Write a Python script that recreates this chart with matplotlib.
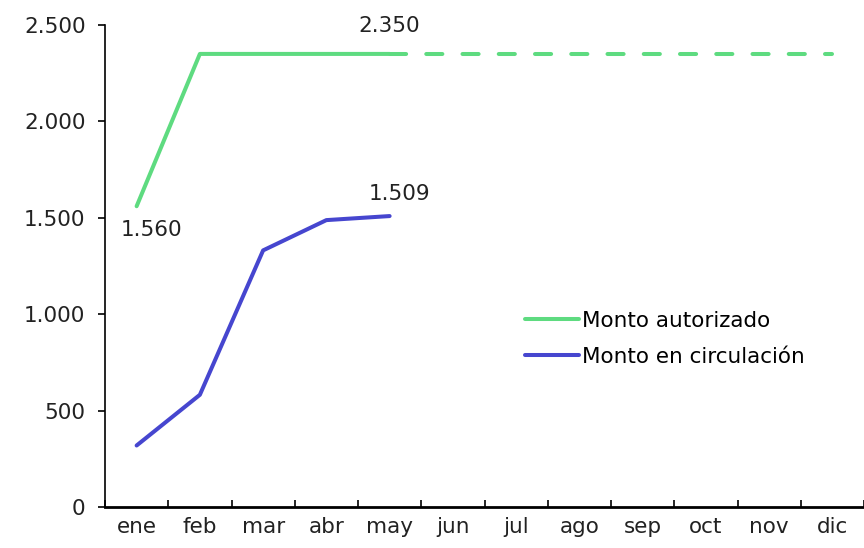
import matplotlib
matplotlib.use("Agg")
import matplotlib.pyplot as plt

months = ["ene", "feb", "mar", "abr", "may", "jun", "jul", "ago", "sep", "oct", "nov", "dic"]
autorizado = [1560, 2350, 2350, 2350, 2350]
autorizado_proy = [None, None, None, None, 2350, 2350, 2350, 2350, 2350, 2350, 2350, 2350]
circulacion = [319, 582, 1331, 1488, 1509]
yticks = [0, 500, 1000, 1500, 2000, 2500]
ytick_labels = ["0", "500", "1.000", "1.500", "2.000", "2.500"]

green = "#5EDB80"
blue = "#4646CF"
FS = 15.5

plt.rcParams['font.family'] = ['DejaVu Sans']
fig = plt.figure(figsize=(8.64, 5.48), dpi=100)
ax = fig.add_axes([105/864, 41/548, 1 - 105/864, (507-25)/548])

x_all = [i + 0.5 for i in range(12)]
xa = x_all[:len(autorizado)]
xc = x_all[:len(circulacion)]
xp = [x for x, v in zip(x_all, autorizado_proy) if v is not None]
vp = [v for v in autorizado_proy if v is not None]

ax.plot(xa, autorizado, color=green, lw=2.9, solid_capstyle='round', solid_joinstyle='round', label="Monto autorizado")
ax.plot(xp, vp, color=green, lw=2.9, dashes=(4, 5), dash_capstyle='round')
ax.plot(xc, circulacion, color=blue, lw=2.9, solid_capstyle='round', solid_joinstyle='round', label="Monto en circulación")

ax.set_xlim(0, 12)
ax.set_ylim(0, 2500)
ax.set_yticks(yticks)
ax.set_yticklabels(ytick_labels, fontsize=FS, color="#222222")
ax.set_xticks(range(13))
ax.set_xticklabels([])
ax.set_xticks(x_all, minor=True)
ax.set_xticklabels(months, minor=True, fontsize=FS, color="#222222")
ax.tick_params(axis='x', which='major', direction='in', length=5, width=1.2)
ax.tick_params(axis='x', which='minor', length=0, pad=7)
ax.tick_params(axis='y', direction='out', length=5, width=1.2, pad=9)

for s in ["top", "right"]:
    ax.spines[s].set_visible(False)
ax.spines["left"].set_linewidth(1.2)
ax.spines["bottom"].set_linewidth(2)

def fmt(v):
    return f"{v:,}".replace(",", ".")

ax.annotate(fmt(autorizado[0]), (xa[0], autorizado[0]), xytext=(11, -17), textcoords='offset points',
            ha='center', va='center', fontsize=FS, color="#222222")
ax.annotate(fmt(autorizado[-1]), (xa[-1], autorizado[-1]), xytext=(0, 20), textcoords='offset points',
            ha='center', va='center', fontsize=FS, color="#222222")
ax.annotate(fmt(circulacion[-1]), (xc[-1], circulacion[-1]), xytext=(7, 16), textcoords='offset points',
            ha='center', va='center', fontsize=FS, color="#222222")

leg = ax.legend(loc='upper left', bbox_to_anchor=(0.553, 0.4075), frameon=False, fontsize=FS,
                handlelength=2.5, handletextpad=0.15, labelspacing=0.75, borderaxespad=0, borderpad=0)

fig.savefig("out.png", dpi=100)
